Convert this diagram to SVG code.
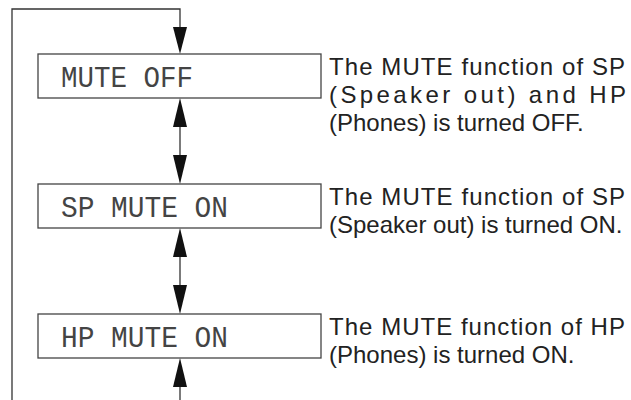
<svg xmlns="http://www.w3.org/2000/svg" width="631" height="400" viewBox="0 0 631 400">
<defs>
<style>
.box{fill:#fff;stroke:#444;stroke-width:1.3}
.lcd{font-family:"Liberation Mono","DejaVu Sans Mono",monospace;font-size:29px;fill:#444}
.desc{font-family:"Liberation Sans",Arial,sans-serif;font-size:24px;fill:#222}
.ln{fill:none;stroke:#333;stroke-width:1.3}
.ah{fill:#111}
</style>
</defs>
<rect width="631" height="400" fill="#fff"/>
<g id="connectors">
<path class="ln" d="M12 400 V9 H180 V30"/>
<polygon class="ah" points="173,27 187,27 180,54"/>
<line class="ln" x1="180" y1="124" x2="180" y2="158"/>
<polygon class="ah" points="173,127 187,127 180,98"/>
<polygon class="ah" points="173,155 187,155 180,184"/>
<line class="ln" x1="180" y1="254" x2="180" y2="288"/>
<polygon class="ah" points="173,257 187,257 180,228"/>
<polygon class="ah" points="173,285 187,285 180,314"/>
<line class="ln" x1="180" y1="384" x2="180" y2="400"/>
<polygon class="ah" points="173,387 187,387 180,358"/>
</g>
<g id="node-mute-off">
<rect class="box" x="38" y="54" width="283" height="44"/>
<text class="lcd" x="61" y="87" textLength="132" lengthAdjust="spacingAndGlyphs">MUTE OFF</text>
<text class="desc" x="329" y="75" textLength="296" lengthAdjust="spacing">The MUTE function of SP</text>
<text class="desc" x="329" y="103" textLength="297" lengthAdjust="spacing">(Speaker out) and HP</text>
<text class="desc" x="329" y="131">(Phones) is turned OFF.</text>
</g>
<g id="node-sp-mute-on">
<rect class="box" x="38" y="184" width="283" height="44"/>
<text class="lcd" x="61" y="217" textLength="167" lengthAdjust="spacingAndGlyphs">SP MUTE ON</text>
<text class="desc" x="329" y="205" textLength="296" lengthAdjust="spacing">The MUTE function of SP</text>
<text class="desc" x="329" y="233">(Speaker out) is turned ON.</text>
</g>
<g id="node-hp-mute-on">
<rect class="box" x="38" y="314" width="283" height="44"/>
<text class="lcd" x="61" y="347" textLength="167" lengthAdjust="spacingAndGlyphs">HP MUTE ON</text>
<text class="desc" x="329" y="335" textLength="296" lengthAdjust="spacing">The MUTE function of HP</text>
<text class="desc" x="329" y="363">(Phones) is turned ON.</text>
</g>
</svg>
